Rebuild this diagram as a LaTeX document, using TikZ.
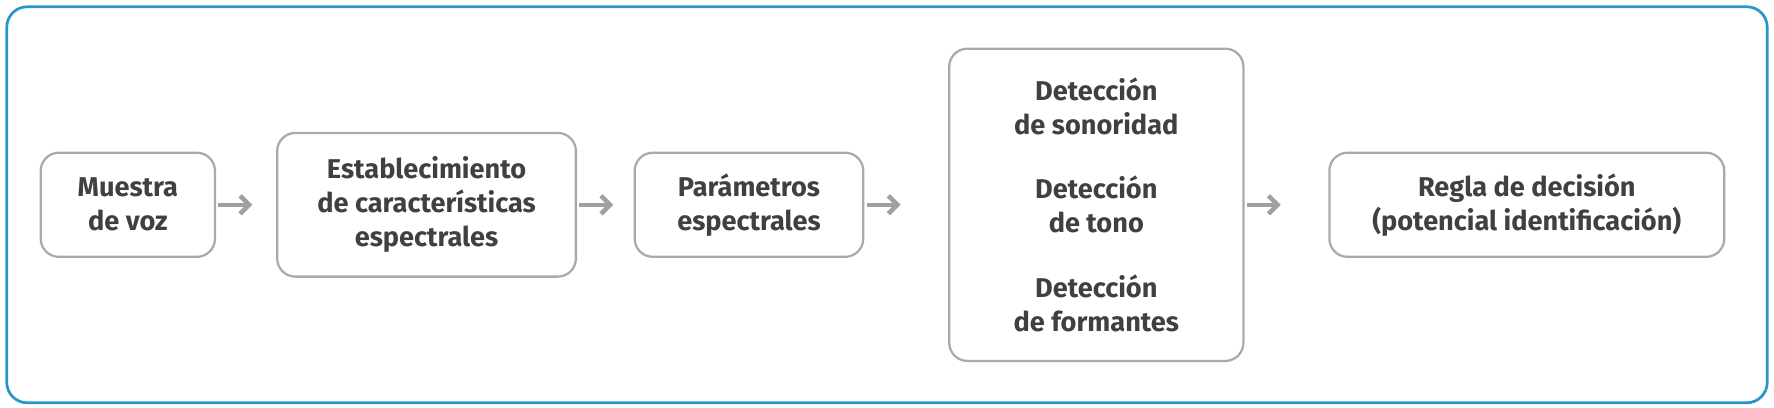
\documentclass[tikz,border=0pt]{standalone}
\usepackage{fontspec}
\setmainfont{Fira Sans}
\usetikzlibrary{arrows.meta}
\definecolor{framecol}{RGB}{38,150,200}
\definecolor{boxcol}{RGB}{170,170,170}
\definecolor{txtcol}{RGB}{64,64,64}
\definecolor{arrcol}{RGB}{160,160,160}
\tikzset{every picture/.style={line width=0.75pt}}
\tikzset{
  stepbox/.style={draw=boxcol,line width=1pt,rounded corners=8pt,font=\bfseries\fontsize{12}{15}\selectfont,
    text=txtcol,align=center,inner sep=0pt},
  flow/.style={draw=arrcol,line width=2pt,-{Straight Barb[length=4pt,width=8pt]}}
}
\begin{document}
\begin{tikzpicture}[x=0.5pt,y=0.5pt,yscale=-1,xscale=1]
\useasboundingbox (0,0) rectangle (1568,360);
% outer frame
\draw [draw=framecol,line width=1.2pt,rounded corners=9pt] (6,6) rectangle (1562,356);

% boxes
\node [stepbox,minimum width=77pt,minimum height=46pt] (muestra) at (113,181) {Muestra\\de voz};
\node [stepbox,minimum width=132pt,minimum height=63.5pt] (estab) at (377,181) {Establecimiento\\de características\\espectrales};
\node [stepbox,minimum width=101pt,minimum height=46pt] (param) at (662,181) {Parámetros\\espectrales};
\node [stepbox,minimum width=130pt,minimum height=138pt] (detec) at (969,181) {Detección\\de sonoridad\\[13.5pt]Detección\\de tono\\[13.5pt]Detección\\de formantes};
\node [stepbox,minimum width=174.5pt,minimum height=46pt] (regla) at (1349.5,181) {Regla de decisión\\(potencial identificación)};

% arrows
\draw [flow,shorten <=1pt,shorten >=10.5pt] (muestra) -- (estab);
\draw [flow,shorten <=1pt,shorten >=9pt] (estab) -- (param);
\draw [flow,shorten <=1pt,shorten >=21pt] (param) -- (detec);
\draw [flow,shorten <=1pt,shorten >=21pt] (detec) -- (regla);
\end{tikzpicture}
\end{document}
